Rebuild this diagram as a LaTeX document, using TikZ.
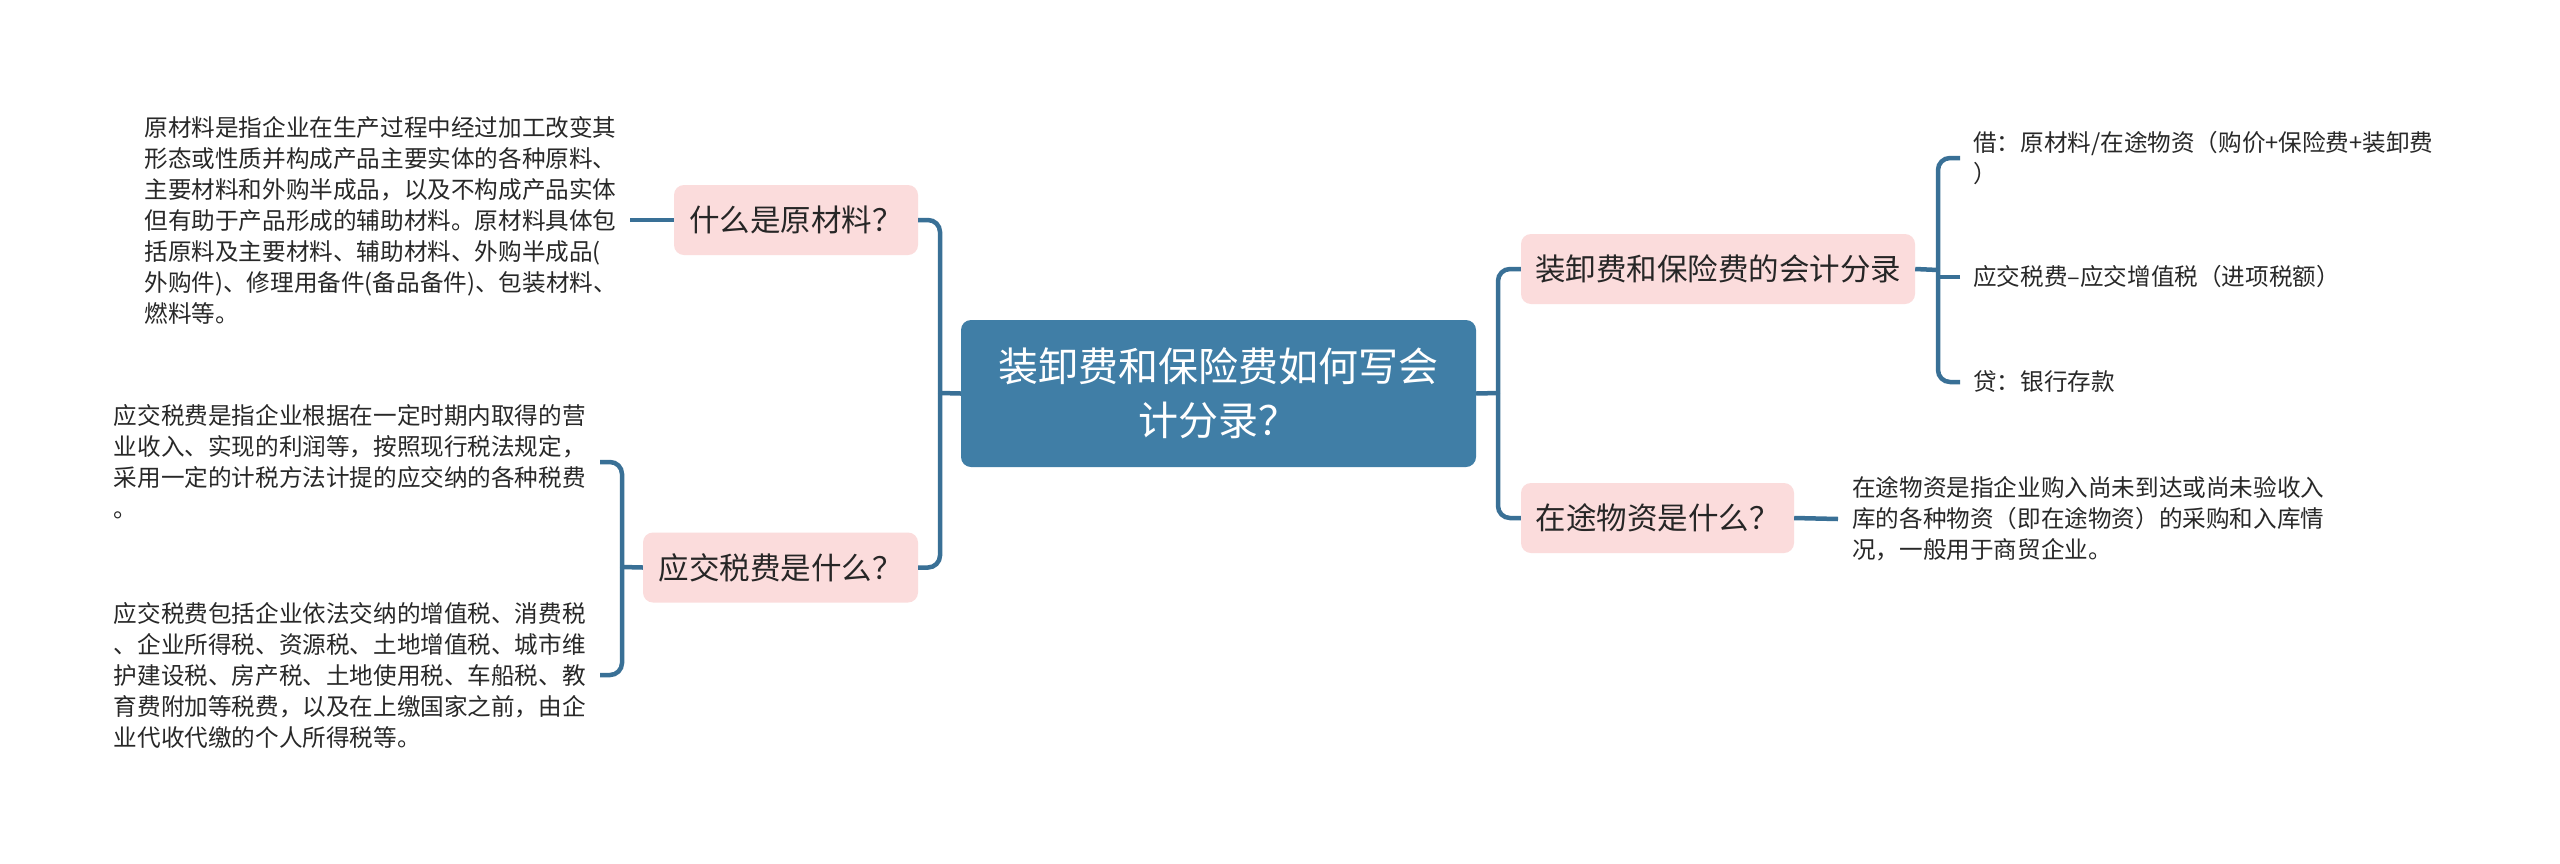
\documentclass[tikz,border=0pt]{standalone}
\usepackage{fontspec}
\setmainfont{Noto Sans CJK SC}
\definecolor{rootblue}{RGB}{64,126,166}
\definecolor{linkblue}{RGB}{57,112,150}
\definecolor{topicpink}{RGB}{251,220,220}
\definecolor{leafgray}{RGB}{40,40,40}
\begin{document}
\begin{tikzpicture}[x=1pt, y=-1pt,
    root/.style  = {fill=rootblue, rounded corners=10pt, text=white, align=center,
                    minimum width=515pt, minimum height=147pt, inner sep=0pt,
                    font=\fontsize{40}{54}\selectfont},
    topic/.style = {fill=topicpink, rounded corners=10pt, text=black!85,
                    minimum height=70pt, inner sep=0pt, font=\fontsize{30.5}{36}\selectfont},
    leaf/.style  = {align=left, text=leafgray, inner xsep=13pt, inner ysep=0pt,
                    font=\fontsize{23.6}{31}\selectfont},
    link/.style  = {draw=linkblue, line width=4.5pt, rounded corners=12pt}]
        \fill[white] (0,0) rectangle (2560,863);
        \useasboundingbox (0,0) rectangle (2560,863);
        \coordinate (ltrunk)  at ( 940,393);
        \coordinate (rtrunk)  at (1498,393);
        \coordinate (lbrace)  at ( 622,567);
        \coordinate (etrunk)  at (1938,270);
        \node[root] (root) at (1218.5,393.5) {装卸费和保险费如何写会\\计分录？};
        \node[topic, minimum width=244pt] (raw)     at ( 796,220) {什么是原材料？};
        \node[topic, minimum width=275pt] (tax)     at ( 780.5,567.5) {应交税费是什么？};
        \node[topic, minimum width=394pt] (entry)   at (1718,269) {装卸费和保险费的会计分录};
        \node[topic, minimum width=273pt] (transit) at (1657.5,518) {在途物资是什么？};
        \node[leaf, anchor=east] (rawleaf) at (630,220) {原材料是指企业在生产过程中经过加工改变其\\形态或性质并构成产品主要实体的各种原料、\\主要材料和外购半成品，以及不构成产品实体\\但有助于产品形成的辅助材料。原材料具体包\\括原料及主要材料、辅助材料、外购半成品(\\外购件)、修理用备件(备品备件)、包装材料、\\燃料等。};
        \node[leaf, anchor=east, inner xsep=14pt] (taxleaf1) at (600,462) {应交税费是指企业根据在一定时期内取得的营\\业收入、实现的利润等，按照现行税法规定，\\采用一定的计税方法计提的应交纳的各种税费\\。};
        \node[leaf, anchor=east, inner xsep=14pt] (taxleaf2) at (600,675) {应交税费包括企业依法交纳的增值税、消费税\\、企业所得税、资源税、土地增值税、城市维\\护建设税、房产税、土地使用税、车船税、教\\育费附加等税费，以及在上缴国家之前，由企\\业代收代缴的个人所得税等。};
        \node[leaf, anchor=west] (dr)  at (1960,158) {借：原材料/在途物资（购价+保险费+装卸费\\）};
        \node[leaf, anchor=west] (vat) at (1960,277) {应交税费–应交增值税（进项税额）};
        \node[leaf, anchor=west] (cr)  at (1960,382) {贷：银行存款};
        \node[leaf, anchor=west, inner xsep=14pt] (transitleaf) at (1838,519) {在途物资是指企业购入尚未到达或尚未验收入\\库的各种物资（即在途物资）的采购和入库情\\况，一般用于商贸企业。};
        % left side
        \draw[link] (root.west) -- (ltrunk);
        \draw[link] (raw.east) -| (ltrunk);
        \draw[link] (tax.east) -| (ltrunk);
        \draw[link] (rawleaf.east) -- (raw.west);
        \draw[link] (tax.west) -- (lbrace);
        \draw[link] (taxleaf1.east) -| (lbrace);
        \draw[link] (taxleaf2.east) -| (lbrace);
        % right side
        \draw[link] (root.east) -- (rtrunk);
        \draw[link] (entry.west) -| (rtrunk);
        \draw[link] (transit.west) -| (rtrunk);
        \draw[link] (entry.east) -- (etrunk);
        \draw[link] (dr.west) -| (etrunk);
        \draw[link] (cr.west) -| (etrunk);
        \draw[link] (vat.west) -- (vat.west -| etrunk);
        \draw[link] (transit.east) -- (transitleaf.west);
      \end{tikzpicture}
\end{document}
